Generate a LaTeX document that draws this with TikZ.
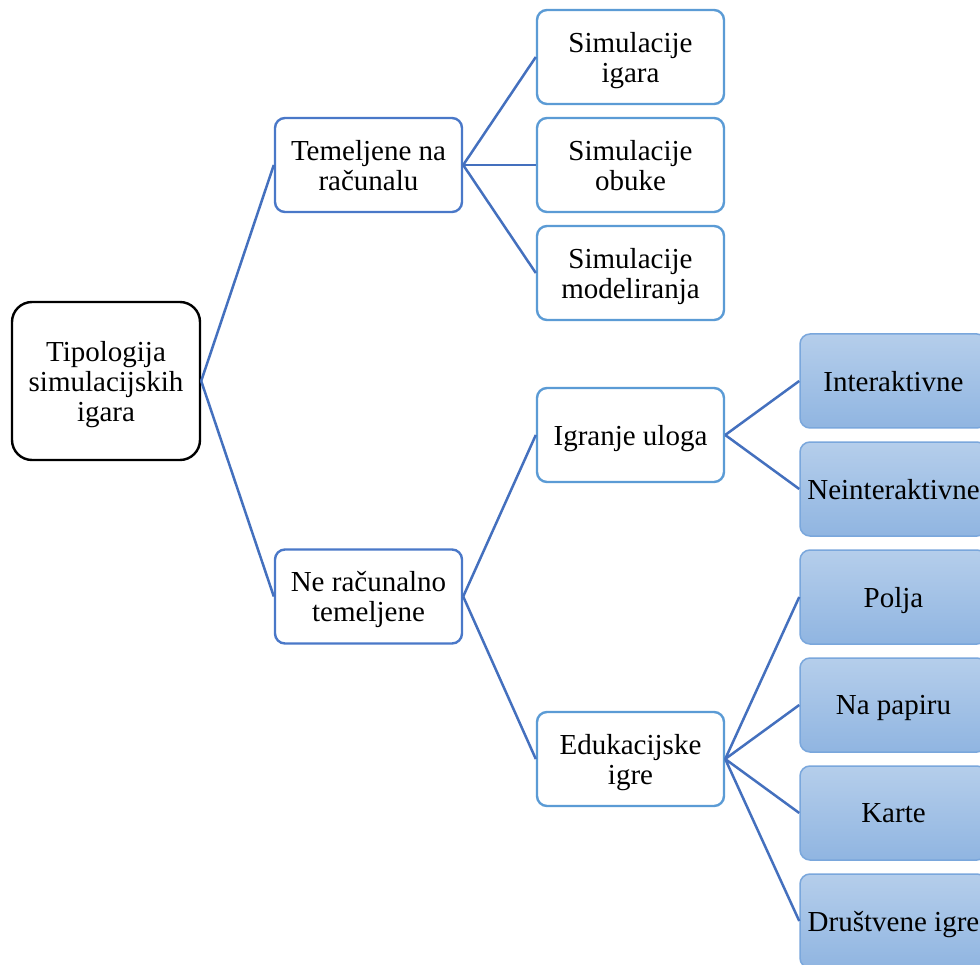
\documentclass[tikz,border=0pt]{standalone}
\usepackage{fontspec}
\setmainfont{Liberation Serif}
\definecolor{lineblue}{HTML}{4470BE}
\definecolor{bordA}{HTML}{4A78C8}
\definecolor{bordB}{HTML}{5B9BD5}
\definecolor{bordC}{HTML}{7AA7DC}
\definecolor{topC}{HTML}{B5CEEB}
\definecolor{botC}{HTML}{90B5E1}
\begin{document}
\begin{tikzpicture}[x=1pt,y=-1pt,
  base/.style={align=center,font=\fontsize{29}{30}\selectfont,inner sep=0pt,text depth=0pt},
  rootbox/.style={base,draw=black,line width=2.4pt,rounded corners=20pt,minimum width=188pt,minimum height=158pt,fill=white},
  lvlA/.style={base,draw=bordA,line width=2.4pt,rounded corners=10pt,minimum width=187pt,minimum height=94pt,fill=white},
  lvlB/.style={base,draw=bordB,line width=2.4pt,rounded corners=10pt,minimum width=187pt,minimum height=94pt,fill=white},
  lvlC/.style={base,draw=bordC,line width=1.5pt,rounded corners=10pt,minimum width=187pt,minimum height=94pt,top color=topC,bottom color=botC},
  conn/.style={draw=lineblue,line width=2.5pt}]
\useasboundingbox (0,0) rectangle (980,965);
\fill[white] (0,0) rectangle (980,965);
\node[rootbox] (root) at (106,381) {Tipologija\\simulacijskih\\igara};
\node[lvlA] (tem) at (368.5,165) {Temeljene na\\računalu};
\node[lvlA] (ne) at (368.5,596.5) {Ne računalno\\temeljene};
\node[lvlB] (sig) at (630.5,57) {Simulacije\\igara};
\node[lvlB] (sob) at (630.5,165) {Simulacije\\obuke};
\node[lvlB] (smo) at (630.5,273) {Simulacije\\modeliranja};
\node[lvlB] (igu) at (630.5,435) {Igranje uloga};
\node[lvlB] (edu) at (630.5,759) {Edukacijske\\igre};
\node[lvlC] (int) at (893.5,381) {Interaktivne};
\node[lvlC] (nei) at (893.5,489) {Neinteraktivne};
\node[lvlC] (pol) at (893.5,597) {Polja};
\node[lvlC] (pap) at (893.5,705) {Na papiru};
\node[lvlC] (kar) at (893.5,813) {Karte};
\node[lvlC] (dru) at (893.5,921) {Društvene igre};
\foreach \a/\b in {root/tem,root/ne,tem/sig,tem/sob,tem/smo,ne/igu,ne/edu,igu/int,igu/nei,edu/pol,edu/pap,edu/kar,edu/dru}
  \draw[conn] (\a.east) -- (\b.west);
\end{tikzpicture}
\end{document}
